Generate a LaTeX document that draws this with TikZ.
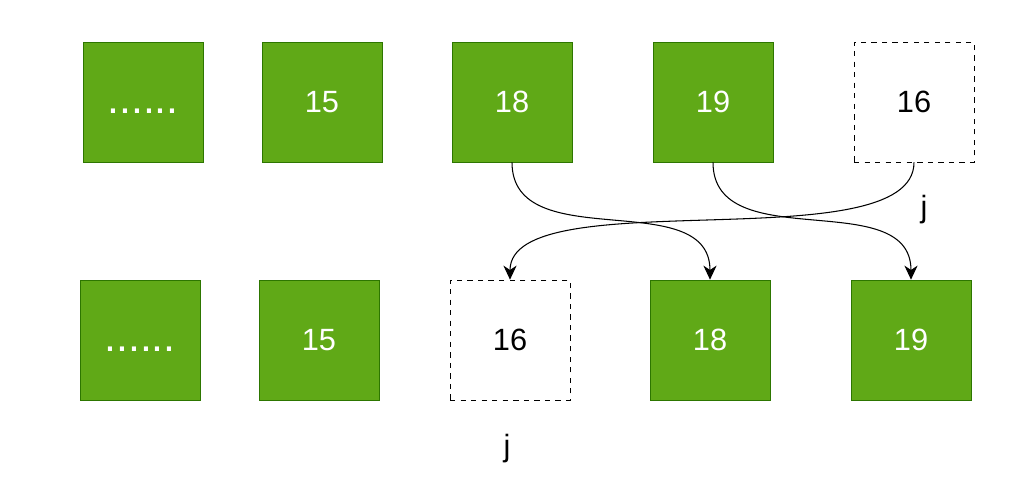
\documentclass[tikz,border=0pt]{standalone}
\usepackage{fontspec}
\setmainfont{Liberation Sans}
\usetikzlibrary{arrows.meta}

\definecolor{cellgreen}{HTML}{60A917}
\definecolor{celledge}{HTML}{2D7600}

\begin{document}
\begin{tikzpicture}[
  x=0.02cm, y=-0.02cm,
  cell/.style={draw=celledge, fill=cellgreen, minimum width=2.4cm, minimum height=2.4cm,
               inner sep=0pt, text=white, font=\fontsize{17.5}{20}\selectfont},
  slot/.style={draw=black, dashed, fill=white, minimum width=2.4cm, minimum height=2.4cm,
               inner sep=0pt, font=\fontsize{17.5}{20}\selectfont},
  dots/.style={font=\fontsize{24.4}{28}\selectfont, text height=0.44cm, text depth=0pt},
  arr/.style={-{Stealth[length=8pt, width=7.5pt, inset=2.5pt]}, line width=0.6pt},
  idx/.style={font=\fontsize{17.5}{20}\selectfont, anchor=base},
]
\useasboundingbox (0,0) rectangle (1035,484);

% --- Top row ---
\node[cell, dots] (t0) at (143,102) {......};
\node[cell] (t1) at (322,102) {15};
\node[cell] (t2) at (512,102) {18};
\node[cell] (t3) at (713,102) {19};
\node[slot] (t4) at (914,102) {16};

% --- Bottom row ---
\node[cell, dots] (b0) at (140,340) {......};
\node[cell] (b1) at (319,340) {15};
\node[slot] (b2) at (510,340) {16};
\node[cell] (b3) at (710,340) {18};
\node[cell] (b4) at (911,340) {19};

% --- Index labels ---
\node[idx] (j1) at (924,217) {j};
\node[idx] (j2) at (507,456) {j};

% --- Moves ---
\draw[arr] (t2.south) .. controls +(0,95) and +(0,-95) .. (b3.north);
\draw[arr] (t3.south) .. controls +(0,95) and +(0,-95) .. (b4.north);
\draw[arr] (t4.south) .. controls +(0,100) and +(0,-100) .. (b2.north);

\end{tikzpicture}
\end{document}
